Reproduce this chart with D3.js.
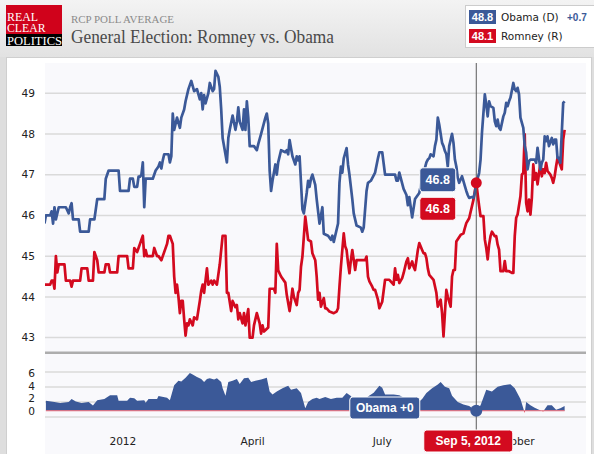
<!DOCTYPE html>
<html>
<head>
<meta charset="utf-8">
<script src="https://d3js.org/d3.v7.min.js"></script>
<style>
    body { margin: 0; background: #dedede; }
    svg { display: block; }
    .tick-label { font-family: "DejaVu Sans", Verdana, sans-serif; font-size: 10.6px; fill: #222; }
    .tip { font-family: "Liberation Sans", Arial, sans-serif; font-weight: bold; fill: #fff; }
</style>
</head>
<body>
<div id="chart"></div>
<script>
// days counted from Jan 1 2012, value in %
const obama = [[-55,45.8],[-54,46.0],[-51,46.0],[-50,46.1],[-49,45.8],[-48,46.2],[-47,45.9],[-45,46.2],[-40,46.2],[-38,46.05],[-37,46.2],[-36,46.3],[-35,45.9],[-31,45.9],[-30,45.6],[-24,45.6],[-23,45.9],[-20,45.9],[-18,46.4],[-13,46.4],[-12,46.9],[-10,47.1],[-3,47.1],[-2,46.6],[4,46.6],[5,46.9],[7,46.9],[8,46.7],[10,46.7],[11,46.95],[12,46.95],[13,47.0],[14,47.3],[15,46.2],[16,46.9],[21,46.9],[23,47.1],[25,47.2],[26,47.3],[27,47.15],[28,47.35],[29,47.5],[32,47.5],[33,47.3],[34,47.45],[35,48.5],[36,48.1],[38,48.4],[40,48.15],[41,48.4],[43,48.6],[44,48.8],[46,49.1],[48,49.3],[50,49.05],[52,49.1],[54,48.85],[55,49.0],[56,48.6],[57,48.95],[58,48.75],[60,49.0],[61,49.25],[63,49.05],[64,49.1],[65,49.55],[67,49.4],[68,49.15],[69,48.6],[70,47.9],[73,47.3],[74,47.9],[75,48.1],[77,48.45],[79,48.1],[80,48.3],[81,48.65],[82,48.3],[84,48.1],[85,48.6],[86,48.1],[87,48.8],[88,48.4],[89,47.7],[92,47.7],[94,47.6],[95,47.75],[97,48.0],[100,48.4],[101,48.5],[102,48.25],[103,47.1],[104,46.6],[105,46.85],[107,47.25],[108,47.0],[109,47.3],[111,47.6],[114,47.55],[115,47.6],[116,47.5],[117,47.85],[118,47.65],[119,47.45],[121,47.25],[122,47.45],[123,47.35],[124,47.45],[126,46.15],[127,46.05],[129,46.55],[130,46.85],[131,46.7],[132,46.9],[133,47.0],[135,46.75],[136,46.4],[138,45.8],[139,46.0],[140,46.2],[141,45.55],[144,45.5],[146,45.4],[147,45.5],[148,45.35],[151,45.8],[152,46.8],[153,47.2],[154,47.05],[155,47.4],[157,47.65],[158,47.25],[159,47.0],[160,46.7],[161,46.4],[162,46.05],[164,45.75],[167,45.7],[168,45.6],[169,45.7],[171,46.6],[172,46.8],[174,46.85],[177,47.05],[179,47.4],[180,47.55],[182,47.55],[184,47.0],[191,47.0],[192,46.85],[193,46.85],[194,47.05],[197,46.65],[199,46.5],[200,46.25],[201,46.45],[202,46.2],[203,45.95],[205,46.4],[206,46.45],[208,46.55],[210,46.9],[213,47.3],[214,47.37],[215,47.4],[216,47.5],[218,47.45],[219,47.7],[220,47.86],[221,48.4],[222,48.23],[224,47.78],[225,47.7],[226,47.58],[227,47.5],[228,47.2],[229,47.7],[231,48.0],[232,47.78],[233,47.37],[234,47.2],[235,46.92],[236,46.8],[238,46.96],[239,46.84],[240,46.72],[241,46.6],[242,46.5],[243,46.43],[245,46.45],[246,46.43],[247,46.55],[248,46.8],[250,47.04],[251,47.37],[252,48.03],[254,48.97],[255,48.72],[256,48.43],[257,48.8],[258,48.68],[260,48.64],[261,48.31],[262,48.19],[263,48.35],[264,48.15],[265,48.1],[267,48.43],[268,48.52],[269,48.76],[270,48.68],[271,48.8],[272,48.89],[274,49.25],[275,49.09],[276,49.05],[277,49.13],[278,48.97],[279,48.4],[281,48.15],[282,47.7],[283,47.54],[284,47.13],[285,47.33],[286,47.37],[289,47.37],[290,47.29],[291,47.66],[293,47.13],[294,47.29],[295,47.37],[296,47.94],[297,47.82],[298,47.94],[299,47.7],[301,47.9],[302,47.74],[303,47.86],[304,47.86],[305,47.41],[306,47.41],[307,47.29],[309,48.76],[310,48.8]];

const romney = [[-55,44.3],[-51,44.3],[-50,44.4],[-49,44.4],[-48,44.2],[-47,45.0],[-46,44.6],[-45,44.8],[-41,44.8],[-40,44.4],[-37,44.4],[-36,44.25],[-35,44.4],[-30,44.4],[-29,44.7],[-25,44.7],[-24,44.4],[-21,44.4],[-20,45.1],[-18,44.9],[-17,44.6],[-13,44.6],[-12,44.8],[-10,44.8],[-9,44.6],[-4,44.6],[-3,45.0],[3,45.0],[4,44.7],[7,44.7],[8,45.2],[10,45.1],[11,45.2],[12,45.3],[14,45.5],[15,45.0],[16,45.15],[17,45.0],[21,45.0],[22,45.2],[24,45.0],[25,45.0],[27,44.9],[28,45.0],[31,45.3],[32,45.5],[33,45.5],[35,45.3],[36,44.5],[37,44.1],[38,44.3],[39,44.0],[40,43.6],[41,43.9],[42,43.9],[43,43.45],[44,43.05],[45,43.35],[46,43.3],[47,43.45],[49,43.3],[50,43.5],[52,43.45],[54,43.9],[55,44.15],[56,44.3],[57,44.1],[59,44.7],[60,44.3],[62,44.4],[63,44.3],[64,44.4],[66,44.3],[68,44.8],[70,45.5],[72,45.5],[73,44.1],[74,44.1],[76,43.65],[77,43.9],[79,43.75],[80,43.8],[81,43.45],[82,43.6],[84,43.35],[85,43.6],[86,43.3],[88,43.7],[89,43.0],[91,43.0],[92,43.3],[94,43.6],[96,43.35],[97,43.1],[98,43.3],[99,43.15],[102,43.25],[103,44.2],[106,44.2],[107,44.1],[108,45.3],[109,44.65],[111,44.5],[114,44.35],[115,44.05],[117,43.65],[118,43.9],[119,44.2],[120,44.0],[122,43.8],[123,44.1],[124,44.17],[125,44.74],[126,44.99],[128,45.97],[130,45.4],[132,45.36],[133,45.07],[135,44.9],[136,44.5],[137,43.93],[138,44.1],[139,43.76],[141,43.97],[142,43.72],[143,43.72],[145,43.64],[148,43.6],[150,43.64],[151,43.72],[152,44.25],[153,44.74],[155,45.56],[156,45.24],[157,45.15],[158,44.83],[159,44.58],[160,44.9],[161,45.15],[163,44.66],[164,44.9],[170,44.9],[171,44.99],[172,44.5],[173,44.38],[175,44.25],[176,44.17],[177,44.17],[179,43.93],[180,43.72],[182,43.88],[184,44.42],[187,44.42],[190,44.3],[191,44.7],[192,44.42],[193,44.54],[194,44.34],[196,44.46],[197,44.58],[199,44.87],[200,44.95],[201,44.7],[203,44.87],[204,44.74],[205,44.66],[206,44.9],[207,45.15],[208,45.32],[210,45.15],[211,45.07],[212,45.07],[213,44.95],[214,44.7],[215,44.54],[218,44.42],[220,44.1],[221,43.76],[223,43.93],[224,43.6],[225,43.03],[226,43.6],[227,44.17],[228,44.0],[230,43.76],[231,44.5],[232,44.66],[233,44.66],[234,45.36],[237,45.52],[239,45.56],[240,45.69],[241,45.81],[243,45.93],[246,46.38],[248,46.8],[250,46.23],[251,45.98],[253,45.98],[254,45.41],[255,45.2],[256,44.92],[257,45.28],[258,45.49],[259,45.6],[261,45.49],[262,45.49],[263,45.28],[264,45.16],[265,44.63],[267,44.63],[268,44.88],[269,44.63],[271,44.63],[273,44.59],[274,44.59],[275,45.49],[276,45.94],[277,46.02],[279,46.47],[280,47.0],[281,47.04],[282,47.99],[283,46.31],[284,46.1],[285,46.39],[286,46.02],[287,46.43],[288,47.25],[289,46.88],[290,47.04],[291,46.76],[293,47.29],[294,46.96],[295,47.13],[296,47.04],[297,47.29],[298,47.09],[300,47.0],[301,46.92],[302,46.8],[303,46.96],[304,47.2],[305,47.41],[306,47.33],[308,47.13],[309,47.86],[310,48.1]];

// Obama lead
const spread = [[-54,1.6],[-48,1.4],[-44,1.25],[-38,1.4],[-36,1.9],[-33,1.5],[-29,1.25],[-24,1.4],[-21,0.85],[-18,1.7],[-13,1.9],[-9,2.5],[-4,2.5],[-3,1.6],[3,1.6],[5,2.1],[8,2.0],[10,1.6],[15,1.7],[16,1.3],[18,1.9],[24,1.9],[25,2.35],[31,2.1],[33,1.7],[36,4.1],[39,4.8],[41,4.7],[44,5.3],[47,6.05],[49,5.8],[52,5.4],[55,5.1],[57,4.6],[59,5.1],[61,5.2],[64,5.0],[66,5.2],[69,4.6],[70,3.6],[72,2.4],[74,4.6],[77,4.8],[80,5.1],[82,4.3],[85,5.2],[88,5.3],[90,4.6],[93,4.8],[97,5.0],[101,5.3],[103,3.1],[105,2.6],[108,3.1],[112,3.6],[116,4.0],[118,3.35],[122,3.6],[125,2.85],[128,0.4],[130,1.4],[133,1.9],[136,2.1],[138,1.9],[142,2.2],[146,1.9],[150,2.1],[154,2.1],[157,2.85],[160,2.35],[164,0.9],[168,0.8],[172,2.3],[176,2.9],[180,4.0],[182,3.7],[184,2.6],[190,2.6],[194,2.5],[198,2.0],[201,1.5],[203,1.2],[207,1.3],[210,1.9],[213,2.85],[217,3.6],[221,4.2],[223,4.6],[226,3.85],[229,3.6],[231,2.4],[235,1.4],[239,1.0],[243,0.75],[248,0],[251,0.9],[255,3.35],[259,3.1],[263,3.85],[267,4.1],[272,4.25],[275,3.6],[279,1.9],[282,-0.35],[283,1.4],[286,0.9],[289,0.5],[292,0.15],[295,-0.1],[298,0.9],[301,0.9],[304,0.15],[307,0.4],[310,0.75]];

const yTicks = [43, 44, 45, 46, 47, 48, 49];
const navTicks = [0, 2, 4, 6];
const navGrid = [-1, 1.4, 3.8, 6.2];
const focusDay = 248;   // Sep 5, 2012 (hovered point)

const blue = "#3b5998";
const red = "#d30a1f";
const toDate = d => new Date(2012, 0, 1 + d);

const W = 594, H = 454;
const svg = d3.select("#chart").append("svg").attr("width", W).attr("height", H);
const defs = svg.append("defs");

// header gradient
const grad = defs.append("linearGradient").attr("id", "head").attr("x1", 0).attr("y1", 0).attr("x2", 0).attr("y2", 1);
grad.append("stop").attr("offset", "0%").attr("stop-color", "#f3f3f3");
grad.append("stop").attr("offset", "100%").attr("stop-color", "#e2e2e2");
svg.append("rect").attr("width", W).attr("height", 57).attr("fill", "url(#head)");

// white panel + plot background
svg.append("rect").attr("x", 6.5).attr("y", 57.5).attr("width", 585).attr("height", 400)
    .attr("fill", "#fff").attr("stroke", "#cfcfcf");
svg.append("rect").attr("x", 45).attr("y", 63).attr("width", 541).attr("height", 391).attr("fill", "#f9f9fc");

// logo
const logo = svg.append("g");
logo.append("rect").attr("x", 6).attr("y", 5).attr("width", 56).attr("height", 29).attr("fill", "#d0021b");
logo.append("rect").attr("x", 6).attr("y", 34).attr("width", 56).attr("height", 12).attr("fill", "#000");
[["REAL", 20.7, 31], ["CLEAR", 32.3, 38.5], ["POLITICS", 44.8, 55]].forEach(([t, yy, len]) => {
    logo.append("text").attr("x", 7).attr("y", yy).attr("textLength", len).attr("lengthAdjust", "spacingAndGlyphs")
        .attr("font-family", "Liberation Serif, serif").attr("font-size", 12.3).attr("fill", "#fff").text(t);
});

svg.append("text").attr("x", 71).attr("y", 23).attr("textLength", 103).attr("lengthAdjust", "spacingAndGlyphs")
    .attr("font-family", "Liberation Serif, serif").attr("font-size", 10.5).attr("fill", "#8a8a8a")
    .text("RCP POLL AVERAGE");
svg.append("text").attr("x", 71).attr("y", 43).attr("textLength", 263).attr("lengthAdjust", "spacingAndGlyphs")
    .attr("font-family", "Liberation Serif, serif").attr("font-size", 19.5).attr("fill", "#4a4a4a")
    .text("General Election: Romney vs. Obama");

// scales
const x = d3.scaleTime().domain([toDate(-55), toDate(325)]).range([44.5, 586]);
const y = d3.scaleLinear().domain([42.63, 49.74]).range([352.7, 63]);
const ny = d3.scaleLinear().domain([-1, 6.2]).range([417, 372]);

// grid lines
svg.append("g").selectAll("line").data(yTicks).join("line")
    .attr("x1", 45).attr("x2", 586).attr("y1", d => y(d)).attr("y2", d => y(d))
    .attr("stroke", "#dadada").attr("stroke-width", 1.5);
svg.append("g").selectAll("text").data(yTicks).join("text").attr("class", "tick-label")
    .attr("x", 35).attr("y", d => y(d)).attr("dy", "0.36em").attr("text-anchor", "end").text(d => d);

svg.append("line").attr("x1", 45).attr("x2", 586).attr("y1", 352.7).attr("y2", 352.7)
    .attr("stroke", "#adadad").attr("stroke-width", 2.5);

svg.append("g").selectAll("line").data(navGrid).join("line")
    .attr("x1", 45).attr("x2", 586).attr("y1", d => ny(d)).attr("y2", d => ny(d))
    .attr("stroke", "#dadada").attr("stroke-width", 1.5);
svg.append("g").selectAll("text").data(navTicks).join("text").attr("class", "tick-label")
    .attr("x", 35).attr("y", d => ny(d)).attr("dy", "0.36em").attr("text-anchor", "end").text(d => d);

// x labels
const fmtTick = d => d.getMonth() === 0 ? d3.timeFormat("%Y")(d) : d3.timeFormat("%B")(d);
svg.append("g").selectAll("text").data(x.ticks(d3.timeMonth.every(3))).join("text").attr("class", "tick-label")
    .attr("x", d => x(d)).attr("y", 441).attr("dy", "0.36em").attr("text-anchor", "middle").text(fmtTick);

// main lines
defs.append("clipPath").attr("id", "plot").append("rect").attr("x", 45).attr("y", 63).attr("width", 541).attr("height", 289);
const line = d3.line().x(d => x(toDate(d[0]))).y(d => y(d[1]));
const lines = svg.append("g").attr("clip-path", "url(#plot)");
lines.append("path").datum(romney).attr("d", line).attr("fill", "none").attr("stroke", red)
    .attr("stroke-width", 2.7).attr("stroke-linejoin", "round");
lines.append("path").datum(obama).attr("d", line).attr("fill", "none").attr("stroke", blue)
    .attr("stroke-width", 2.7).attr("stroke-linejoin", "round");

// navigator area, blue above zero and red below
defs.append("clipPath").attr("id", "pos").append("rect").attr("x", 45).attr("y", 360).attr("width", 541).attr("height", ny(0) - 360);
defs.append("clipPath").attr("id", "neg").append("rect").attr("x", 45).attr("y", ny(0)).attr("width", 541).attr("height", 20);
const area = d3.area().x(d => x(toDate(d[0]))).y0(ny(0)).y1(d => ny(d[1]));
svg.append("path").datum(spread).attr("d", area).attr("fill", blue).attr("clip-path", "url(#pos)");
svg.append("path").datum(spread).attr("d", area).attr("fill", red).attr("clip-path", "url(#neg)");
svg.append("line").attr("x1", x(toDate(spread[0][0]))).attr("x2", x(toDate(spread[spread.length - 1][0])))
    .attr("y1", ny(0)).attr("y2", ny(0)).attr("stroke", "#e8707c").attr("stroke-width", 1);

// hover state at focus day
const fx = x(toDate(focusDay));
const ob = obama.find(d => d[0] === focusDay)[1];
const ro = romney.find(d => d[0] === focusDay)[1];
const sp = spread.find(d => d[0] === focusDay)[1];
const f1 = d3.format(".1f");

svg.append("line").attr("x1", fx).attr("x2", fx).attr("y1", 63).attr("y2", 432)
    .attr("stroke", "#5a5a5a").attr("stroke-width", 1);
svg.append("circle").attr("cx", fx).attr("cy", y(ro)).attr("r", 5.5).attr("fill", red);
svg.append("circle").attr("cx", fx).attr("cy", ny(sp)).attr("r", 6).attr("fill", blue);

function tipBox(cx, cy, w, h, fill, label, size) {
    svg.append("rect").attr("x", cx - w / 2).attr("y", cy - h / 2).attr("width", w).attr("height", h)
        .attr("rx", 3).attr("fill", fill).attr("stroke", "#fff").attr("stroke-width", 1);
    svg.append("text").attr("class", "tip").attr("x", cx).attr("y", cy).attr("dy", "0.36em")
        .attr("text-anchor", "middle").attr("font-size", size).text(label);
}
tipBox(fx - 38.5, y(ob) - 3, 36, 24, blue, f1(ob), 12.5);
tipBox(fx - 38.5, y(ro) + 26, 36, 23, red, f1(ro), 12.5);
tipBox(fx - 91.5, 408, 70, 22, blue, "Obama " + d3.format("+")(sp), 12);
tipBox(fx - 8, 441, 89, 22, red, d3.timeFormat("%b %-d, %Y")(toDate(focusDay)), 12);

// legend with latest values
const lastOb = obama[obama.length - 1][1], lastRo = romney[romney.length - 1][1];
const leg = svg.append("g");
leg.append("rect").attr("x", 465.5).attr("y", 5.5).attr("width", 140).attr("height", 42)
    .attr("fill", "#fff").attr("stroke", "#cccccc");
[[lastOb, blue, "Obama (D)", 10], [lastRo, red, "Romney (R)", 29]].forEach(([v, c, name, top]) => {
    leg.append("rect").attr("x", 469).attr("y", top).attr("width", 27).attr("height", 14).attr("fill", c);
    leg.append("text").attr("class", "tip").attr("x", 482.5).attr("y", top + 7).attr("dy", "0.36em")
        .attr("text-anchor", "middle").attr("font-size", 11).text(f1(v));
    leg.append("text").attr("x", 501).attr("y", top + 7).attr("dy", "0.36em")
        .attr("font-family", "DejaVu Sans, Verdana, sans-serif").attr("font-size", 10.5).attr("fill", "#222").text(name);
});
leg.append("text").attr("class", "tip").attr("x", 567).attr("y", 17.5).attr("dy", "0.36em")
    .attr("font-size", 10).style("fill", blue).text("+" + f1(lastOb - lastRo));
</script>
</body>
</html>
